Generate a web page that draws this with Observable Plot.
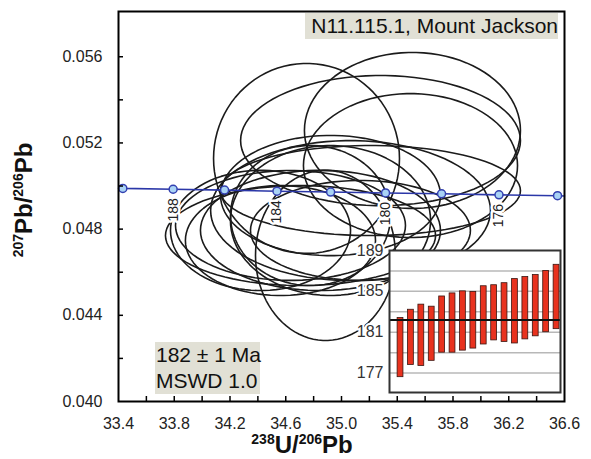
<!DOCTYPE html>
<html><head><meta charset="utf-8">
<script src="https://cdn.jsdelivr.net/npm/d3@7"></script>
<script src="https://cdn.jsdelivr.net/npm/@observablehq/plot@0.6"></script>
<style>
html,body{margin:0;padding:0;background:#fff;}
#wrap{position:relative;width:591px;height:459px;font-family:"Liberation Sans",Arial,sans-serif;overflow:hidden;}
#wrap svg{position:absolute;}
.box{position:absolute;background:#e1e0d5;color:#111;font-size:21px;line-height:26px;white-space:nowrap;}
.atitle{position:absolute;font-weight:bold;font-size:24px;color:#111;white-space:nowrap;line-height:24px;}
.atitle span{font-size:14px;position:relative;top:-9px;}
</style></head><body><div id="wrap"></div>
<script>
// ---- data ----
const xTickLabels = [33.4, 33.8, 34.2, 34.6, 35.0, 35.4, 35.8, 36.2, 36.6];
const xMinorTicks = [33.6, 33.8, 34.0, 34.2, 34.4, 34.6, 34.8, 35.0, 35.2, 35.4, 35.6, 35.8, 36.0, 36.2, 36.4];
const yTickLabels = [0.040, 0.044, 0.048, 0.052, 0.056];
const yMinorTicks = [0.042, 0.044, 0.046, 0.048, 0.050, 0.052, 0.054, 0.056];

// concordia (age in Ma, 238U/206Pb, 207Pb/206Pb)
const concAges = [190, 188, 186, 184, 182, 180, 178, 176, 174];
const concX = [33.431, 33.792, 34.161, 34.537, 34.922, 35.316, 35.718, 36.130, 36.550];
const concY = [0.04989, 0.04985, 0.04981, 0.04976, 0.04972, 0.04968, 0.04964, 0.04959, 0.04955];
const concLabelAges = [188, 184, 180, 176];
const concEndX = [33.4, 36.6];
const concEndY = [0.04990, 0.04954];

// error ellipses: centre and semi-axes
const ellCx = [35.509, 34.749, 35.280, 35.495, 34.921, 34.706, 34.634, 34.849, 34.921, 34.885, 35.065, 34.562, 35.136, 34.778, 35.208, 34.419];
const ellCy = [0.05258, 0.05128, 0.05211, 0.05095, 0.04956, 0.04770, 0.04817, 0.04794, 0.04840, 0.04678, 0.04886, 0.04747, 0.04794, 0.04863, 0.04979, 0.04794];
const ellRx = [0.775, 0.667, 1.004, 0.768, 0.789, 0.969, 0.825, 0.861, 0.718, 0.502, 1.004, 0.682, 0.789, 0.574, 1.076, 0.646];
const ellRy = [0.00362, 0.00441, 0.00302, 0.00334, 0.00279, 0.00232, 0.00255, 0.00279, 0.00348, 0.00395, 0.00325, 0.00255, 0.00232, 0.00325, 0.00209, 0.00279];

// inset: weighted mean ages (Ma), 2-sigma bars
const barLo = [176.6, 177.8, 177.7, 178.2, 179.0, 179.0, 179.2, 179.4, 179.8, 180.2, 180.05, 179.9, 180.3, 180.6, 181.0, 181.3];
const barHi = [182.4, 183.2, 183.7, 183.5, 184.5, 184.8, 185.0, 184.95, 185.5, 185.6, 185.8, 186.2, 186.4, 186.6, 187.0, 187.6];
const meanAge = 182.2;
const insetGrid = [177, 179, 181, 183, 185, 187];
const insetLabels = [177, 181, 185, 189];

// ---- build ----
const ellPts = [];
ellCx.forEach((cx, i) => {
  for (let k = 0; k <= 90; k++) {
    const t = 2 * Math.PI * k / 90;
    ellPts.push({id: i, x: cx + ellRx[i] * Math.cos(t), y: ellCy[i] + ellRy[i] * Math.sin(t)});
  }
});
const concPts = concAges.map((a, i) => ({age: a, x: concX[i], y: concY[i]}));
const concLine = [{x: concEndX[0], y: concEndY[0]}, ...concPts, {x: concEndX[1], y: concEndY[1]}];
const concLab = concPts.filter(d => concLabelAges.includes(d.age));

const W = 591, H = 459, mL = 118, mR = 27, mT = 11, mB = 58;
const fw = W - mL - mR, fh = H - mT - mB;
const font = "Liberation Sans, Arial, sans-serif";

const main = Plot.plot({
  width: W, height: H, marginLeft: mL, marginRight: mR, marginTop: mT, marginBottom: mB,
  x: {domain: [33.4, 36.6]},
  y: {domain: [0.040, 0.0581]},
  style: {fontFamily: font, background: "transparent", overflow: "visible", color: "#222"},
  marks: [
    Plot.line(ellPts, {x: "x", y: "y", z: "id", stroke: "#1b1b1b", strokeWidth: 1.6, clip: true}),
    Plot.line(concLine, {x: "x", y: "y", stroke: "#2b37a8", strokeWidth: 1.6}),
    Plot.dot(concPts, {x: "x", y: "y", r: 4, fill: "#a9d3f5", stroke: "#3340b0", strokeWidth: 1.5}),
    Plot.text(concLab, {x: "x", y: "y", text: d => String(d.age), rotate: -90, textAnchor: "end", dy: 9, fontSize: 14, fill: "#222", stroke: "white", strokeWidth: 5, paintOrder: "stroke"}),
    Plot.ruleX(xMinorTicks, {x: d => d, insetTop: fh - 5, stroke: "black", strokeWidth: 1.5}),
    Plot.ruleY(yMinorTicks, {y: d => d, insetRight: fw - 5, stroke: "black", strokeWidth: 1.5}),
    Plot.axisX({ticks: xTickLabels, tickSize: 0, tickPadding: 16, fontSize: 16, tickFormat: d3.format(".1f"), label: null}),
    Plot.axisY({ticks: yTickLabels, tickSize: 0, tickPadding: 16, fontSize: 16, tickFormat: d3.format(".3f"), label: null}),
    Plot.frame({stroke: "black", strokeWidth: 2})
  ]
});
main.style.left = "0px"; main.style.top = "0px";

const inset = Plot.plot({
  width: 225, height: 160, marginLeft: 44, marginRight: 10, marginTop: 10, marginBottom: 8,
  x: {domain: [-1.06, 15.38], axis: null},
  y: {domain: [175.1, 189], axis: null},
  style: {fontFamily: font, background: "transparent", overflow: "visible"},
  marks: [
    Plot.frame({fill: "white"}),
    Plot.ruleY(insetGrid, {stroke: "#b8b8b8", strokeWidth: 1.5}),
    Plot.rect(barLo.map((lo, i) => ({i, lo, hi: barHi[i]})), {x1: d => d.i - 0.28, x2: d => d.i + 0.28, y1: "lo", y2: "hi", fill: "#e8321e", stroke: "#3a1510", strokeWidth: 0.8}),
    Plot.ruleY([meanAge], {stroke: "#111", strokeWidth: 2}),
    Plot.text(insetLabels, {y: d => d, frameAnchor: "left", textAnchor: "end", dx: -6, text: d => String(d), fontSize: 16, fill: "#333", stroke: "white", strokeWidth: 4, paintOrder: "stroke"}),
    Plot.frame({stroke: "#333", strokeWidth: 2})
  ]
});
inset.style.left = "345px"; inset.style.top = "240px";

const wrap = document.getElementById("wrap");
wrap.appendChild(main);
wrap.appendChild(inset);

function addDiv(html, cls, css) {
  const d = document.createElement("div");
  d.className = cls; d.innerHTML = html; Object.assign(d.style, css); wrap.appendChild(d); return d;
}
addDiv("N11.115.1, Mount Jackson", "box", {left: "305px", top: "13px", width: "253px", height: "26px", textAlign: "right", paddingRight: "0px"});
addDiv("182 ± 1 Ma<br>MSWD 1.0", "box", {left: "155px", top: "342px", width: "104px", height: "52px", paddingLeft: "1px"});
const xt = addDiv("<span>238</span>U/<span>206</span>Pb", "atitle", {left: "302px", top: "433px"});
xt.style.transform = "translateX(-50%)";
const yt = addDiv("<span>207</span>Pb/<span>206</span>Pb", "atitle", {left: "25px", top: "200px"});
yt.style.transform = "translate(-50%,-50%) rotate(-90deg)";
</script>
</body></html>
